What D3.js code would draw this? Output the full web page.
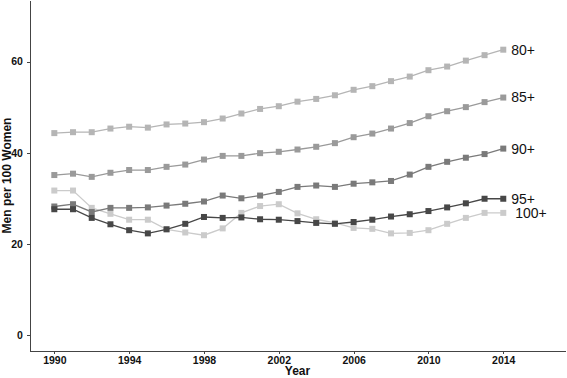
<!DOCTYPE html>
<meta charset="utf-8">
<style>
body { margin: 0; background: #fff; }
svg { font-family: "Liberation Sans", Arial, sans-serif; }
.axis path, .axis line { stroke: #444; stroke-width: 1px; shape-rendering: crispEdges; }
.axis text { font-size: 10.5px; font-weight: bold; fill: #111; }
.series path { fill: none; stroke-width: 1.3px; }
.lab { font-size: 14px; fill: #111; }
.title { font-size: 12px; font-weight: bold; fill: #111; }
</style>
<body>
<script src="https://cdn.jsdelivr.net/npm/d3@7"></script>
<script>

var years = d3.range(1990, 2015);

var s80 = [44.3, 44.5, 44.5, 45.3, 45.7, 45.5, 46.2, 46.4, 46.7, 47.5, 48.6, 49.6, 50.2,
           51.2, 51.8, 52.6, 53.8, 54.6, 55.7, 56.7, 58.1, 58.9, 60.2, 61.4, 62.6];
var s85 = [35.1, 35.4, 34.7, 35.6, 36.2, 36.2, 36.9, 37.4, 38.5, 39.3, 39.3, 39.9, 40.2,
           40.7, 41.3, 42.1, 43.4, 44.2, 45.3, 46.5, 48.0, 49.1, 50.0, 51.1, 52.1];
var s90 = [28.2, 28.7, 27.0, 27.9, 27.9, 28.0, 28.4, 28.8, 29.3, 30.6, 30.0, 30.6, 31.4,
           32.5, 32.8, 32.5, 33.2, 33.5, 33.8, 35.2, 36.9, 38.0, 38.9, 39.7, 40.9];
var s95 = [27.6, 27.6, 25.7, 24.3, 23.0, 22.3, 23.2, 24.4, 25.9, 25.7, 25.8, 25.4, 25.3,
           25.0, 24.6, 24.4, 24.8, 25.3, 26.0, 26.5, 27.2, 28.0, 28.9, 29.9, 29.9];
var s100 = [31.7, 31.7, 27.9, 26.6, 25.3, 25.3, 23.2, 22.5, 21.9, 23.4, 26.8, 28.3, 28.7,
            26.7, 25.4, 24.6, 23.5, 23.3, 22.3, 22.4, 23.0, 24.4, 25.7, 26.8, 26.8];

var names = ["80+", "85+", "90+", "95+", "100+"];
var colors = ["#b5b5b5", "#9a9a9a", "#7a7a7a", "#474747", "#cbcbcb"];
var yTicks = [0, 20, 40, 60];
var xTicks = [1990, 1994, 1998, 2002, 2006, 2010, 2014];

var series = [s80, s85, s90, s95, s100].map(function(v, i) {
  return { name: names[i], color: colors[i], values: v.map(function(d, j) { return [years[j], d]; }) };
});

var margin = {top: 0, right: 2, bottom: 27, left: 30},
    width = 567 - margin.left - margin.right,
    height = 378 - margin.top - margin.bottom;

var x = d3.scaleLinear().domain([1988.7, 2017.3]).range([0, width]);
var y = d3.scaleLinear().domain([-3.5, 73.5]).range([height, 0]);

var svg = d3.select("body").append("svg")
    .attr("width", 567)
    .attr("height", 378)
  .append("g")
    .attr("transform", "translate(" + margin.left + "," + margin.top + ")");

svg.append("g")
    .attr("class", "axis")
    .attr("transform", "translate(0," + height + ")")
    .call(d3.axisBottom(x).tickValues(xTicks).tickFormat(d3.format("d")).tickSize(3).tickSizeOuter(0))
    .selectAll("text").attr("dy", "0.66em");

svg.append("g")
    .attr("class", "axis")
    .call(d3.axisLeft(y).tickValues(yTicks).tickSize(3).tickSizeOuter(0))
    .selectAll("text").attr("dx", "-0.1em");

var line = d3.line()
    .x(function(d) { return x(d[0]); })
    .y(function(d) { return y(d[1]); });

// draw light ones under dark ones
var order = [4, 0, 1, 2, 3];
var g = svg.selectAll(".series")
    .data(order.map(function(i) { return series[i]; }))
  .enter().append("g")
    .attr("class", "series");

g.append("path")
    .attr("d", function(d) { return line(d.values); })
    .attr("stroke", function(d) { return d.color; });

var sq = 6;
g.selectAll("rect")
    .data(function(d) { return d.values.map(function(v) { return {v: v, c: d.color}; }); })
  .enter().append("rect")
    .attr("x", function(d) { return x(d.v[0]) - sq / 2; })
    .attr("y", function(d) { return y(d.v[1]) - sq / 2; })
    .attr("width", sq)
    .attr("height", sq)
    .attr("fill", function(d) { return d.c; });

g.append("text")
    .attr("class", "lab")
    .attr("x", function(d) { return x(2014) + (d.name === "100+" ? 12 : 8); })
    .attr("y", function(d) { return y(d.values[d.values.length - 1][1]); })
    .attr("dy", "0.35em")
    .text(function(d) { return d.name; });

svg.append("text")
    .attr("class", "title")
    .attr("x", width / 2)
    .attr("y", height + 24)
    .attr("text-anchor", "middle")
    .text("Year");

svg.append("text")
    .attr("class", "title")
    .attr("transform", "rotate(-90)")
    .attr("x", -height / 2)
    .attr("y", -margin.left + 11)
    .attr("text-anchor", "middle")
    .text("Men per 100 Women");

</script>
